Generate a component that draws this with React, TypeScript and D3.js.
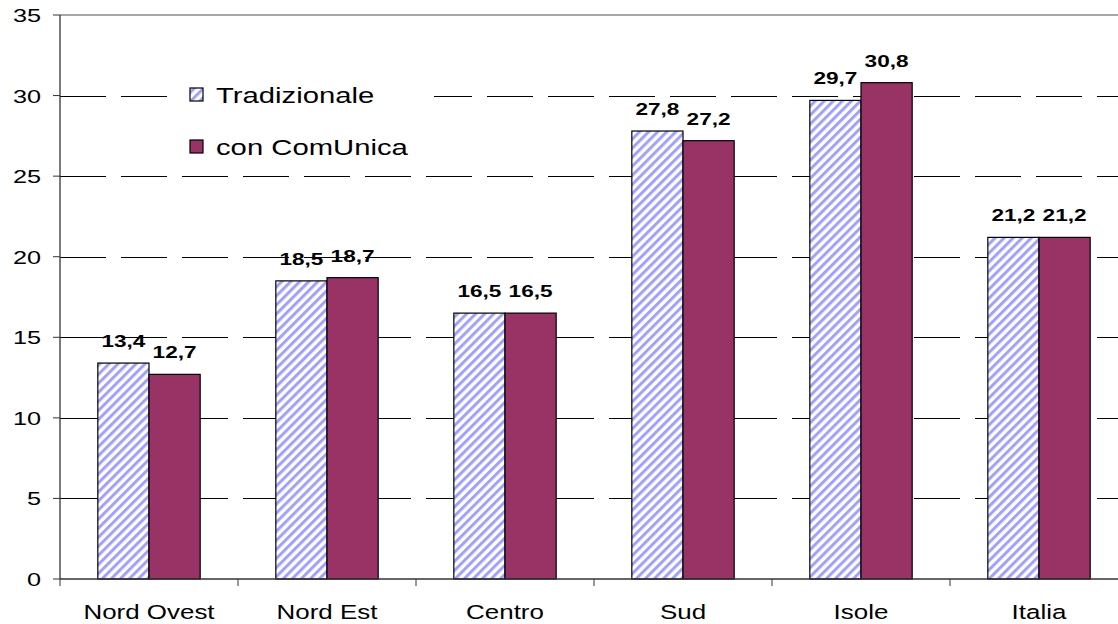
import * as d3 from 'd3';

const categories = ['Nord Ovest', 'Nord Est', 'Centro', 'Sud', 'Isole', 'Italia'];
const tradizionale = [13.4, 18.5, 16.5, 27.8, 29.7, 21.2];
const comunica = [12.7, 18.7, 16.5, 27.2, 30.8, 21.2];
const seriesNames = ['Tradizionale', 'con ComUnica'];
const yTicks = [0, 5, 10, 15, 20, 25, 30, 35];

const svgWidth = 1118,
	svgHeight = 624;
const plot = { left: 60, top: 15, right: 1128, bottom: 579 };
const font = 'Liberation Sans, Arial, sans-serif';
const plum = '#993366';
const stretch = 1.33;

// the original text is drawn wider than plain Arial, so scale it horizontally
function WideText({ x, y, anchor = 'start', size, bold = false, baseline = 'auto', children }: any) {
	return (
		<text
			transform={`translate(${x}, ${y}) scale(${stretch}, 1)`}
			textAnchor={anchor}
			dominantBaseline={baseline}
			fontSize={size}
			fontWeight={bold ? 'bold' : 'normal'}
			fill="#000"
		>
			{children}
		</text>
	);
}

export default function App() {
	const x = d3
		.scaleBand<string>()
		.domain(categories)
		.range([plot.left, plot.right])
		.paddingInner(0.425)
		.paddingOuter(0.2125);
	const y = d3.scaleLinear().domain([0, 35]).range([plot.bottom, plot.top]);
	const barW = x.bandwidth() / 2;
	const step = x.step();
	const fmt = (v: number) => v.toFixed(1).replace('.', ',');

	const series = [
		{ name: seriesNames[0], values: tradizionale, fill: 'url(#hatch)' },
		{ name: seriesNames[1], values: comunica, fill: plum },
	];

	return (
		<svg
			width={svgWidth}
			height={svgHeight}
			style={{ position: 'absolute', left: 0, top: 0, background: 'white' }}
			fontFamily={font}
		>
			<defs>
				<pattern
					id="hatch"
					width={6.4}
					height={6.4}
					patternUnits="userSpaceOnUse"
					patternTransform="rotate(45)"
				>
					<rect width={6.4} height={6.4} fill="white" />
					<rect width={3} height={6.4} fill="#a0a0ff" />
				</pattern>
			</defs>

			{/* gridlines */}
			{yTicks
				.filter((t) => t > 0 && t < 35)
				.map((t) => (
					<line
						key={t}
						x1={plot.left}
						x2={svgWidth}
						y1={Math.round(y(t)) + 0.5}
						y2={Math.round(y(t)) + 0.5}
						stroke="#000"
						strokeWidth={1}
						strokeDasharray="46 15"
					/>
				))}
			<line x1={plot.left} x2={svgWidth} y1={y(35)} y2={y(35)} stroke="#888" strokeWidth={1.5} />

			{/* bars */}
			{series.map((s, si) =>
				s.values.map((v, i) => (
					<rect
						key={`${si}-${i}`}
						x={x(categories[i])! + si * barW}
						y={y(v)}
						width={barW}
						height={y(0) - y(v)}
						fill={s.fill}
						stroke="#000"
						strokeWidth={1.2}
					/>
				))
			)}

			{/* value labels */}
			{series.map((s, si) =>
				s.values.map((v, i) => (
					<WideText
						key={`l${si}-${i}`}
						x={x(categories[i])! + si * barW + barW / 2}
						y={y(v) - 16}
						anchor="middle"
						size={17}
						bold
					>
						{fmt(v)}
					</WideText>
				))
			)}

			{/* left axis */}
			<line x1={plot.left} x2={plot.left} y1={plot.top} y2={plot.bottom} stroke="#333" strokeWidth={1.3} />
			{yTicks.map((t) => (
				<g key={t}>
					<line x1={plot.left - 7} x2={plot.left} y1={y(t)} y2={y(t)} stroke="#333" strokeWidth={1} />
					<WideText x={41} y={y(t) + 7} anchor="end" size={19}>
						{t}
					</WideText>
				</g>
			))}

			{/* bottom axis */}
			<line x1={plot.left} x2={svgWidth} y1={plot.bottom} y2={plot.bottom} stroke="#333" strokeWidth={1.3} />
			{categories.map((c, i) => (
				<g key={c}>
					<line
						x1={plot.left + i * step}
						x2={plot.left + i * step}
						y1={plot.bottom}
						y2={plot.bottom + 7}
						stroke="#333"
					/>
					<WideText x={x(c)! + x.bandwidth() / 2} y={619} anchor="middle" size={19.5}>
						{c}
					</WideText>
				</g>
			))}

			{/* legend */}
			<rect x={168} y={74} width={266} height={92} fill="white" />
			{series.map((s, i) => (
				<g key={s.name}>
					<rect
						x={190}
						y={88 + i * 52}
						width={13}
						height={13}
						fill={s.fill}
						stroke="#000"
						strokeWidth={1.2}
					/>
					<WideText x={216} y={103 + i * 52} size={22}>
						{s.name}
					</WideText>
				</g>
			))}
		</svg>
	);
}
